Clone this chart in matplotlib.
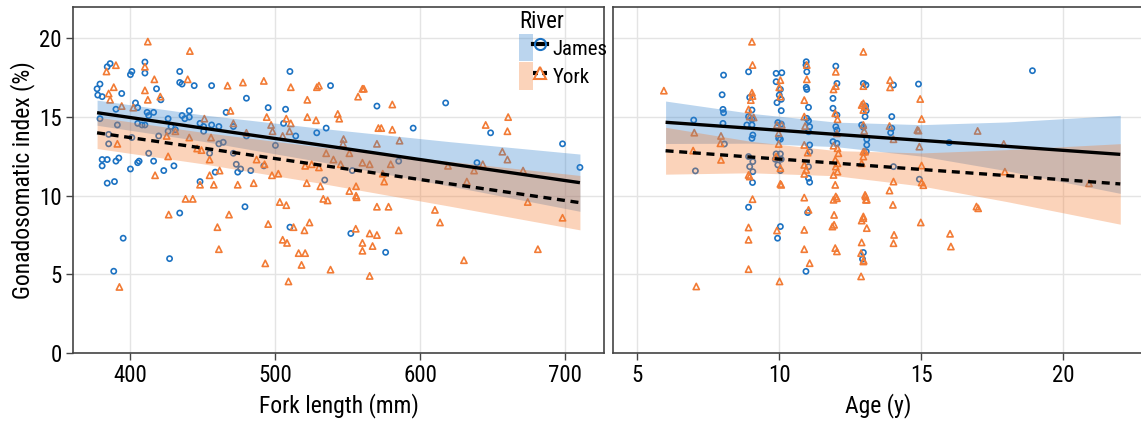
import numpy as np
import matplotlib
matplotlib.use("Agg")
import matplotlib.pyplot as plt
from matplotlib import font_manager
from matplotlib.patches import Patch
from matplotlib.lines import Line2D
from matplotlib.legend_handler import HandlerTuple

# prefer a narrow sans face if one is available
narrow = None
for f in font_manager.fontManager.ttflist:
    fn = f.fname.lower()
    if ('narrow' in fn or 'condensed' in fn) and 'bold' not in fn and 'oblique' not in fn \
            and 'italic' not in fn and ('liberation' in fn or 'dejavusans' in fn or 'roboto' in fn):
        narrow = f
        if 'liberation' in fn:
            break
if narrow is not None:
    plt.rcParams['font.family'] = [narrow.name, 'DejaVu Sans']
    plt.rcParams['font.stretch'] = narrow.stretch
    label_size, tick_size, leg_size = 17, 16.5, 15
else:
    plt.rcParams['font.family'] = ['Liberation Sans', 'DejaVu Sans']
    label_size, tick_size, leg_size = 15.5, 14.5, 13.5

# ---- GSI vs fork length ----
james_fl = [377, 377.5, 379, 380.5, 384, 386, 379, 385, 385, 380.5, 380.5, 384, 384, 389, 390, 392,
            390, 391, 394, 400, 401, 403.5, 405, 405, 401, 400, 405, 406, 410, 410, 411.5, 408,
            410, 412.6, 416, 412.6, 416, 418, 421, 419.5, 423, 426, 426, 428, 431, 430, 434, 434,
            434, 435.6, 435.6, 437.5, 440.6, 440.6, 444, 448, 448, 450.5, 450.5, 454.6, 456, 456,
            461, 458.5, 461, 464, 466, 471, 471, 473, 474, 476, 479, 480, 480, 483, 492, 495,
            500, 505.6, 507, 510, 514, 528.5, 534, 535, 538, 553, 570, 585, 388.5, 395, 427, 510,
            552, 576, 617.4, 595, 648.4, 698, 710, 639]
james_gsi_fl = [16.8, 16.4, 17.1, 16.3, 18.2, 18.4, 14.9, 13.9, 13.3, 12.3, 11.9, 12.3, 10.8, 10.9, 12.2, 12.4,
                15.5, 14.5, 16.5, 17.7, 17.9, 15.9, 15.6, 14.6, 13.7, 11.7, 12.1, 12.2, 18.5, 17.8, 15.3, 14.5,
                14.5, 15.1, 15.3, 12.7, 12.2, 16.8, 16.1, 13.8, 11.6, 14.9, 14.1, 14.4, 14.2, 11.9, 8.9, 17.9,
                17.2, 17.1, 15.1, 14.9, 15.0, 15.4, 17.0, 10.9, 14.6, 14.4, 14.1, 12.7, 17.0, 14.5,
                14.4, 11.5, 13.3, 13.4, 15.3, 14.4, 12.7, 12.0, 11.5, 11.7, 9.3, 16.2, 13.8, 11.6, 11.9, 15.6,
                13.2, 14.6, 15.5, 17.9, 13.8, 14.0, 11.0, 14.3, 17.0, 11.6, 15.7, 12.2, 5.2, 7.3, 6.0, 8.0,
                7.6, 6.4, 15.9, 14.3, 14.0, 13.3, 11.8, 12.1]

york_fl = [383.5, 385, 386, 390, 388.5, 394, 391, 402, 410, 410, 412, 412, 416.5, 420.6, 417, 426,
           425, 431, 438, 443, 441, 439.5, 440.6, 446, 448, 449, 451, 454.6, 454.6, 455.6, 457.5, 461.5,
           467, 469, 468, 471, 474, 477.6, 480, 485, 487, 492, 492.5, 494, 497, 498, 497.6, 502,
           503, 505, 507.5, 507.5, 509.7, 510.6, 510.6, 520.5, 521.6, 522, 522, 528, 525, 530,
           531, 528.6, 530, 533, 536, 535, 540, 543, 544, 545, 547, 546.6, 551, 551,
           557, 555.6, 555.6, 556, 560, 561, 560, 565, 570, 570, 571, 573, 574, 575, 578, 580.6,
           580.6, 579.5, 585.6, 392.4, 426.4, 460, 461, 495, 493, 505, 508, 512.5, 509, 516, 520.5, 520,
           518, 523.5, 538, 555.4, 560, 560, 565, 570, 567, 565, 585, 660.5, 645, 660, 656.5, 660,
           643, 637, 619, 632, 670.8, 674, 610, 698, 613.5, 681, 630]
york_gsi_fl = [17.9, 16.5, 16.1, 18.3, 16.9, 15.7, 13.3, 15.6, 18.2, 16.7, 16.1, 19.8, 17.4, 16.3, 11.3, 12.5,
               13.8, 14.1, 9.8, 9.8, 19.2, 17.4, 13.7, 13.0, 10.7, 12.9, 14.9, 12.3, 11.3, 13.7, 10.7, 11.6,
               17.0, 15.4, 8.8, 14.6, 10.7, 17.2, 14.0, 10.8, 12.3, 17.3, 12.0, 15.0, 14.5, 14.1, 11.3, 11.4,
               9.6, 13.8, 9.4, 14.9, 14.1, 14.6, 16.9, 11.9, 10.8, 16.1, 15.0, 14.8, 12.0, 11.8,
               10.6, 16.9, 17.0, 9.8, 9.7, 12.7, 12.3, 15.2, 14.9, 12.0, 13.6, 13.3, 12.7, 10.3,
               16.3, 10.6, 10.0, 9.9, 16.8, 16.8, 12.1, 12.0, 13.3, 9.3, 14.3, 14.3, 11.4, 10.9, 9.3, 15.8,
               14.2, 12.0, 13.5, 4.2, 8.8, 8.0, 6.6, 8.2, 5.7, 7.2, 7.0, 8.0, 4.55, 6.35, 6.35, 7.8,
               5.6, 8.3, 5.3, 7.9, 7.0, 6.5, 7.6, 7.5, 6.8, 4.9, 7.8, 15.0, 14.5, 14.1, 12.8, 12.3,
               12.0, 11.6, 11.9, 10.9, 11.6, 9.6, 9.1, 8.6, 8.3, 6.6, 5.9]

# ---- GSI vs age ----
james_age = [6.99, 7.05, 8.04, 7.99, 8.02, 8.04, 8.02, 8.07, 8.92, 8.96, 8.92, 9.04, 9.04, 8.86, 9.04, 9.07,
             9.04, 8.92, 9.07, 8.96, 9.07, 9.06, 8.92, 9.89, 10.09, 9.89, 10.04, 10.0, 10.07, 9.92, 10.07,
             9.95, 10.07, 10.04, 9.98, 9.89, 10.04, 9.86, 10.07, 9.95, 10.04, 10.95, 10.94, 10.97, 10.95,
             10.97, 11.03, 10.97, 11.03, 11.07, 11.03, 11.07, 11.07, 11.03, 11.03, 11.07, 11.99, 12.03,
             11.89, 11.89, 12.03, 11.99, 12.03, 11.89, 12.03, 12.9, 12.96, 13.06, 13.02, 13.04, 13.08,
             13.06, 12.96, 13.05, 13.08, 14.02, 13.96, 13.96, 13.92, 14.02, 14.9, 14.93, 15.98, 18.91,
             10.04, 9.94, 11.0, 10.94, 12.96, 12.93]
james_gsi_age = [14.81, 11.58, 17.67, 16.42, 15.49, 15.28, 14.6, 13.29, 17.88, 16.25, 15.03, 15.45, 14.86, 14.5, 14.5, 13.86,
                 13.65, 12.49, 12.17, 11.85, 11.53, 10.84, 9.27, 17.78, 17.82, 17.25, 16.76, 16.4, 16.13, 15.92, 15.41,
                 14.65, 14.56, 13.59, 13.65, 12.66, 12.66, 12.32, 12.32, 11.96, 11.6, 18.52, 18.31, 17.88, 16.89,
                 16.76, 15.62, 14.92, 14.77, 14.39, 14.07, 13.23, 12.8, 11.85, 11.11, 10.86, 18.24, 17.14,
                 16.19, 15.56, 15.13, 14.39, 14.18, 13.44, 13.33, 14.5, 14.35, 15.41, 15.03, 15.7, 13.23,
                 12.8, 17.14, 17.04, 13.59, 17.04, 15.03, 14.29, 14.01, 11.85, 17.1, 11.05, 13.38, 17.95,
                 8.04, 7.3, 8.93, 5.19, 6.39, 5.97]

york_age = [5.94, 7.01, 6.97, 7.95, 7.93, 7.95, 9.04, 9.06, 9.04, 9.06, 9.0, 8.92, 8.96, 9.1, 8.92, 8.96,
            9.06, 10.04, 10.0, 10.04, 9.92, 10.09, 9.98, 9.98, 9.89, 10.04, 10.07, 10.04, 10.88, 10.88, 10.91,
            10.88, 11.0, 10.88, 10.95, 10.88, 10.88, 11.03, 10.97, 10.97, 11.99, 11.99, 11.91, 11.97, 12.05,
            12.03, 11.91, 12.05, 12.08, 11.97, 12.05, 11.99, 12.05, 11.91, 11.97, 11.99, 11.91, 12.03, 11.93,
            12.96, 12.9, 12.96, 12.96, 13.02, 13.04, 13.08, 12.96, 12.96, 13.02, 12.99, 12.96, 12.96, 12.9,
            13.02, 13.05, 12.96, 13.9, 13.9, 13.88, 14.02, 14.02, 13.88, 14.0, 14.96, 15.01, 14.86, 14.9,
            14.93, 15.01, 15.01, 15.07, 16.98, 16.94, 17.0, 17.9, 17.94, 20.9,
            8.92, 8.92, 8.92, 7.08, 9.92, 10.01, 10.88, 10.88, 11.07, 11.93, 11.87, 11.97, 12.03, 12.9,
            12.96, 12.9, 12.88, 12.96, 12.88, 13.08, 12.97, 14.04, 14.02, 14.98, 16.01, 16.04]
york_gsi_age = [16.68, 14.01, 12.87, 13.8, 13.33, 12.28, 19.79, 18.31, 16.55, 16.34, 16.08, 15.49, 15.03, 14.98, 11.32, 11.22,
                9.78, 17.35, 16.89, 16.3, 14.5, 14.5, 13.97, 13.29, 12.49, 10.75, 10.69, 11.75, 16.08, 15.03, 14.43,
                13.23, 12.74, 11.96, 11.64, 11.39, 9.88, 9.1, 18.31, 17.4, 17.88, 16.97, 16.76, 15.24, 14.86,
                13.97, 13.18, 13.02, 12.7, 12.28, 12.06, 11.85, 11.53, 11.32, 10.69, 9.95, 9.74, 9.84, 8.78,
                19.15, 15.77, 15.45, 14.5, 12.8, 9.95, 9.74, 16.97, 15.87, 15.66, 14.12, 12.8, 12.49, 12.06,
                10.05, 9.74, 8.68, 17.35, 16.89, 14.43, 13.59, 10.9, 10.33, 9.42, 16.15, 14.88, 14.18, 14.14,
                13.12, 11.92, 10.84, 10.67, 14.12, 9.31, 9.2, 13.29, 11.53, 10.79,
                7.98, 7.2, 5.33, 4.23, 7.79, 4.55, 7.83, 6.6, 5.71, 8.15, 8.04, 6.67, 6.46, 8.42,
                8.57, 7.03, 6.35, 5.82, 4.87, 7.94, 5.88, 7.51, 6.98, 8.3, 7.58, 6.77]

# fitted lines and 95% CI half-widths
fl_grid = [377, 450, 530, 620, 710]
james_fit_fl = [15.28, 14.30, 13.24, 12.03, 10.83]
james_ci_fl = [0.80, 0.84, 1.06, 1.41, 1.82]
york_fit_fl = [14.00, 13.03, 11.96, 10.76, 9.56]
york_ci_fl = [1.00, 1.00, 1.15, 1.42, 1.73]

age_grid = [6, 9, 12, 15, 18, 22]
james_fit_age = [14.67, 14.29, 13.90, 13.52, 13.14, 12.63]
james_ci_age = [1.35, 0.95, 0.78, 1.00, 1.55, 2.48]
york_fit_age = [12.86, 12.46, 12.07, 11.67, 11.28, 10.75]
york_ci_age = [1.49, 1.00, 0.80, 1.05, 1.65, 2.56]

blue = '#1c72c2'
orange = '#f27b35'
blue_fill = '#3182ce'
orange_fill = '#f47a2e'
dash = (0, (2.4, 1.7))

fig = plt.figure(figsize=(11.41, 4.21), dpi=100)
ax1 = fig.add_axes([73 / 1141, 68 / 421, 531 / 1141, 346 / 421])
ax2 = fig.add_axes([613 / 1141, 68 / 421, 530 / 1141, 346 / 421])


def panel(ax, xj, yj, xy, yy, grid, jf, jc, yf, yc):
    ax.scatter(xj, yj, s=14, marker='o', facecolors='none', edgecolors=blue, linewidths=1.2, zorder=2)
    ax.scatter(xy, yy, s=20, marker='^', facecolors='none', edgecolors=orange, linewidths=1.2, zorder=2)
    g = np.array(grid)
    for fit, ci, col in [(jf, jc, blue_fill), (yf, yc, orange_fill)]:
        fit = np.array(fit)
        ci = np.array(ci)
        ax.fill_between(g, fit - ci, fit + ci, color=col, alpha=0.33, lw=0, zorder=3)
    ax.plot(g, jf, color='black', lw=2.4, zorder=4, solid_capstyle='butt')
    ax.plot(g, yf, color='black', lw=2.4, ls=dash, zorder=4, dash_capstyle='butt')
    ax.set_ylim(0, 22)
    ax.set_yticks([0, 5, 10, 15, 20])
    ax.grid(True, color='#e4e4e4', lw=1)
    ax.set_axisbelow(True)
    for sp in ax.spines.values():
        sp.set_color('#444444')
        sp.set_linewidth(1.2)
    ax.tick_params(labelsize=tick_size, length=5, width=1, color='#444444', pad=3)


panel(ax1, james_fl, james_gsi_fl, york_fl, york_gsi_fl, fl_grid,
      james_fit_fl, james_ci_fl, york_fit_fl, york_ci_fl)
ax1.set_xlim(360.4, 726.6)
ax1.set_xticks([400, 500, 600, 700])
ax1.set_xlabel('Fork length (mm)', fontsize=label_size, labelpad=4)
ax1.set_ylabel('Gonadosomatic index (%)', fontsize=label_size, labelpad=3)

panel(ax2, james_age, james_gsi_age, york_age, york_gsi_age, age_grid,
      james_fit_age, james_ci_age, york_fit_age, york_ci_age)
ax2.set_xlim(4.15, 22.8)
ax2.set_xticks([5, 10, 15, 20])
ax2.tick_params(axis='y', left=False, labelleft=False)
ax2.set_xlabel('Age (y)', fontsize=label_size, labelpad=4)

h_james = (Patch(facecolor=blue_fill, alpha=0.33, lw=0),
           Line2D([], [], color='black', lw=3, marker='o', ms=8, mfc='none', mec=blue, mew=1.5))
h_york = (Patch(facecolor=orange_fill, alpha=0.33, lw=0),
          Line2D([], [], color='black', lw=3, ls=(0, (1.2, 1.0)), marker='^', ms=9, mfc='none',
                 mec=orange, mew=1.5))
px = leg_size * 100 / 72
leg = ax1.legend([h_james, h_york], ['James', 'York'], title='River',
                 handler_map={tuple: HandlerTuple(ndivide=None, pad=0)},
                 loc='upper left', bbox_to_anchor=(0.825, 1.015), frameon=False,
                 fontsize=leg_size, title_fontsize=leg_size + 1.5,
                 handlelength=28 / px, handleheight=34 / px,
                 labelspacing=0.05, handletextpad=0.25, borderaxespad=0.2, borderpad=0.2)
leg._legend_box.align = 'left'

fig.savefig('out.png', dpi=100)
